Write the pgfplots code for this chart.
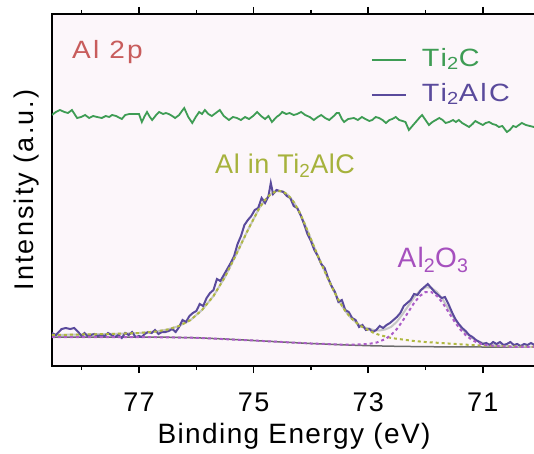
\documentclass[border=0pt]{standalone}
\usepackage{pgfplots}
\pgfplotsset{compat=1.18}
\usepackage{fontspec}
\setmainfont{Liberation Sans}[LetterSpace=5]
\newfontfamily\legfont{Liberation Sans}[LetterSpace=8]
\newfontfamily\ylabfont{Liberation Sans}[LetterSpace=8]
\newfontfamily\peakfont{Liberation Sans}[LetterSpace=2]
\definecolor{bgpink}{RGB}{252,246,250}
\definecolor{tigreen}{RGB}{62,156,84}
\definecolor{tipurple}{RGB}{90,74,156}
\definecolor{olivefit}{RGB}{176,184,64}
\definecolor{olivetxt}{RGB}{166,178,60}
\definecolor{oxfit}{RGB}{172,92,200}
\definecolor{oxtxt}{RGB}{166,80,190}
\definecolor{redtxt}{RGB}{200,92,92}
\newcommand{\sub}[1]{\textsubscript{#1}}
\begin{document}
\begin{tikzpicture}
\path[use as bounding box] (-52pt,-87pt) rectangle (482pt,366pt);
\begin{axis}[
  scale only axis, width=484pt, height=352pt,
  x dir=reverse, xmin=70.072, xmax=78.518, ymin=0, ymax=352,
  axis background/.style={fill=bgpink},
  xtick={71,73,75,77}, minor xtick={70,72,74,76,78},
  ytick=\empty,
  tick align=outside, major tick length=7pt, minor tick length=4pt,
  every tick/.style={black, line width=1.5pt},
  axis line style={line width=2pt},
  /pgf/number format/assume math mode=true,
  xticklabel style={font=\fontsize{27}{30}\selectfont, yshift=-16pt},
  xlabel={Binding Energy (eV)}, ylabel={\ylabfont Intensity (a.u.)},
  xlabel style={font=\fontsize{28}{30}\selectfont, at={(axis description cs:0.5,0)}, anchor=base, yshift=-77pt},
  ylabel style={font=\fontsize{27}{30}\selectfont, at={(axis description cs:-0.0372,0.5)}, anchor=base},
  legend style={at={(0.659,0.903)}, anchor=north west, draw=none, fill=none,
    inner sep=0pt, outer sep=0pt, font=\legfont\fontsize{25}{28}\selectfont,
    nodes={text height=18pt, text depth=6pt, inner sep=0pt},
    row sep=11pt, column sep=15pt},
  legend cell align=left,
  legend image code/.code={\draw[#1] (0pt,0pt) -- (34pt,0pt);},
]
\addplot[tigreen, line width=1.8pt] coordinates {
(78.52,251)(78.45,254)(78.38,256)(78.30,254)(78.24,253)(78.17,256)(78.08,248)(78.01,249)(77.94,251)(77.87,248)(77.80,250)(77.73,249)(77.65,248)(77.58,250)(77.52,249)(77.47,251)(77.40,250)(77.30,247)(77.24,251)(77.17,252)(77.08,252)(77.00,252)(76.95,244)(76.90,250)(76.86,254)(76.81,249)(76.77,246)(76.70,251)(76.65,254)(76.58,252)(76.53,253)(76.48,252)(76.42,250)(76.37,248)(76.30,251)(76.25,255)(76.21,258)(76.14,249)(76.07,243)(76.01,249)(75.95,254)(75.90,252)(75.85,256)(75.79,252)(75.73,250)(75.66,253)(75.59,256)(75.52,250)(75.43,246)(75.36,249)(75.29,248)(75.22,246)(75.15,249)(75.08,247)(75.01,250)(74.94,254)(74.87,250)(74.80,247)(74.74,250)(74.68,244)(74.60,249)(74.55,251)(74.50,254)(74.43,252)(74.37,253)(74.30,251)(74.24,252)(74.17,254)(74.10,251)(74.02,249)(73.95,246)(73.88,249)(73.82,251)(73.75,248)(73.68,246)(73.60,250)(73.55,253)(73.51,253)(73.46,247)(73.42,244)(73.35,247)(73.25,248)(73.18,246)(73.11,249)(73.05,247)(72.98,245)(72.93,246)(72.87,249)(72.81,248)(72.75,246)(72.69,243)(72.63,246)(72.58,247)(72.52,249)(72.46,246)(72.40,245)(72.35,244)(72.29,236)(72.23,240)(72.17,244)(72.11,248)(72.06,251)(72.00,246)(71.94,241)(71.88,244)(71.82,246)(71.76,248)(71.70,246)(71.65,243)(71.59,244)(71.52,246)(71.47,244)(71.42,246)(71.36,243)(71.30,241)(71.24,239)(71.18,242)(71.13,245)(71.07,243)(71.00,241)(70.95,243)(70.89,244)(70.83,242)(70.77,241)(70.72,239)(70.66,240)(70.58,234)(70.53,236)(70.47,240)(70.42,239)(70.37,241)(70.32,243)(70.25,241)(70.18,240)(70.11,239)(70.06,240)};
\addlegendentry{\scalebox{1.15}[1]{\textcolor{tigreen}{Ti\sub{2}C}}}
% background
\addplot[gray!85!black, line width=1.5pt, forget plot] coordinates {
(78.52,29)(77.0,29)(76.5,28.8)(76.0,28.2)(75.5,27)(75.0,25.5)(74.5,24)(74.0,22.5)(73.5,21.3)(73.0,20.3)(72.5,19.7)(72.0,19.3)(71.0,19)(70.05,19)};
% envelope
\addplot[gray!45, line width=2pt, forget plot] coordinates {
(78.52,31)(78.0,31.5)(77.5,32)(77.0,33)(76.7,34.5)(76.5,36.5)(76.3,40)(76.1,46)(75.9,56)(75.7,70)(75.5,89)(75.3,112)(75.1,136)(74.9,158)(74.8,166)(74.7,172)(74.6,175)(74.5,175)(74.4,171)(74.3,164)(74.2,154)(74.1,141)(74.0,127)(73.9,113)(73.8,100)(73.7,87)(73.6,75)(73.5,64)(73.4,55)(73.3,48)(73.2,43)(73.1,39)(73.0,37.7)(72.9,35.9)(72.8,35.5)(72.7,36.6)(72.6,39.1)(72.5,44.3)(72.4,51.9)(72.3,60.2)(72.2,68.6)(72.1,75.2)(72.0,78.7)(71.9,78.3)(71.8,74)(71.7,66.7)(71.6,57.2)(71.5,47.9)(71.4,39.6)(71.3,33.4)(71.2,28.5)(71.1,25.3)(71.0,23)(70.8,21)(70.5,19.6)(70.05,19)};
\addplot[tipurple, line width=2pt] coordinates {
(78.52,33)(78.45,31)(78.40,34)(78.35,37)(78.28,38)(78.20,37)(78.13,38)(78.06,34)(78.00,30)(77.95,33)(77.90,30)(77.84,31)(77.78,32)(77.72,30)(77.66,31)(77.60,30)(77.54,33)(77.48,31)(77.42,29)(77.36,31)(77.30,28)(77.24,33)(77.18,31)(77.12,34)(77.06,29)(77.00,30)(76.95,29)(76.90,32)(76.84,34)(76.78,33)(76.72,36)(76.66,32)(76.60,34)(76.54,34)(76.48,35)(76.42,37)(76.36,34)(76.30,39)(76.24,46)(76.18,44)(76.12,50)(76.06,53)(76.00,55)(75.94,62)(75.88,60)(75.82,68)(75.76,73)(75.70,76)(75.64,87)(75.58,85)(75.52,91)(75.46,97)(75.40,103)(75.34,110)(75.28,122)(75.22,130)(75.16,141)(75.10,146)(75.04,150)(74.98,156)(74.92,158)(74.86,168)(74.80,163)(74.74,170)(74.70,183)(74.66,172)(74.60,176)(74.54,175)(74.48,174)(74.42,170)(74.36,168)(74.30,160)(74.24,158)(74.18,151)(74.12,142)(74.06,132)(74.00,125)(73.94,116)(73.88,110)(73.82,102)(73.76,98)(73.70,88)(73.64,80)(73.58,74)(73.52,64)(73.46,66)(73.40,56)(73.34,54)(73.28,48)(73.22,46)(73.16,39)(73.10,41)(73.04,36)(72.98,37)(72.92,34)(72.86,36)(72.80,40)(72.74,38)(72.68,41)(72.62,43)(72.56,46)(72.50,49)(72.44,53)(72.38,60)(72.32,63)(72.26,66)(72.20,72)(72.14,71)(72.08,76)(72.02,79)(71.96,82)(71.90,78)(71.84,74)(71.78,71)(71.72,68)(71.66,69)(71.60,62)(71.54,54)(71.48,47)(71.42,42)(71.36,38)(71.30,35)(71.24,31)(71.18,29)(71.12,26)(71.06,24)(71.00,22)(70.94,23)(70.88,21)(70.82,24)(70.76,22)(70.70,24)(70.64,21)(70.58,22)(70.52,24)(70.46,21)(70.40,22)(70.34,20)(70.28,22)(70.22,21)(70.16,23)(70.10,21)(70.05,22)};
\addlegendentry{\scalebox{1.15}[1]{\textcolor{tipurple}{Ti\sub{2}AlC}}}
% Al in Ti2AlC fit
\addplot[olivefit, line width=2pt, dash pattern=on 3pt off 3pt, forget plot] coordinates {
(78.52,31)(78.0,31.5)(77.5,32)(77.0,33)(76.7,34.5)(76.5,36.5)(76.3,40)(76.1,46)(75.9,56)(75.7,70)(75.5,89)(75.3,112)(75.1,136)(74.9,158)(74.8,166)(74.7,172)(74.6,175)(74.5,175)(74.4,171)(74.3,164)(74.2,154)(74.1,141)(74.0,127)(73.9,113)(73.8,100)(73.7,87)(73.6,75)(73.5,64)(73.4,55)(73.3,48)(73.2,43)(73.1,39)(73.0,36)(72.9,33)(72.8,31)(72.6,28)(72.4,26.5)(72.2,25)(72.0,24)(71.6,22.5)(71.2,21)(70.8,20)(70.4,19.5)(70.05,19)};
% Al2O3 fit
\addplot[oxfit, line width=2pt, dash pattern=on 3pt off 3pt, forget plot] coordinates {
(78.52,29)(77.0,29)(76.0,28.2)(75.0,25.5)(74.0,22.5)(73.5,21.5)(73.2,21.5)(73.0,22)(72.85,23.5)(72.7,27)(72.6,31)(72.5,37)(72.4,45)(72.3,54)(72.2,63)(72.1,70)(72.0,74)(71.9,74)(71.8,70)(71.7,63)(71.6,54)(71.5,45)(71.4,37)(71.3,31)(71.2,26.5)(71.1,23.5)(71.0,21.5)(70.8,20)(70.5,19.2)(70.05,19)};
\node[anchor=base west, text=redtxt, font=\legfont\fontsize{25}{28}\selectfont, inner sep=0pt] at (axis cs:78.17,308) {\scalebox{1.12}[1]{Al 2p}};
\node[anchor=base, text=olivetxt, font=\peakfont\fontsize{27}{30}\selectfont, inner sep=0pt] at (axis cs:74.45,193) {Al in Ti\sub{2}AlC};
\node[anchor=base, text=oxtxt, font=\fontsize{28}{30}\selectfont, inner sep=0pt] at (axis cs:71.87,99) {Al\sub{2}O\sub{3}};
\end{axis}
\end{tikzpicture}
\end{document}
